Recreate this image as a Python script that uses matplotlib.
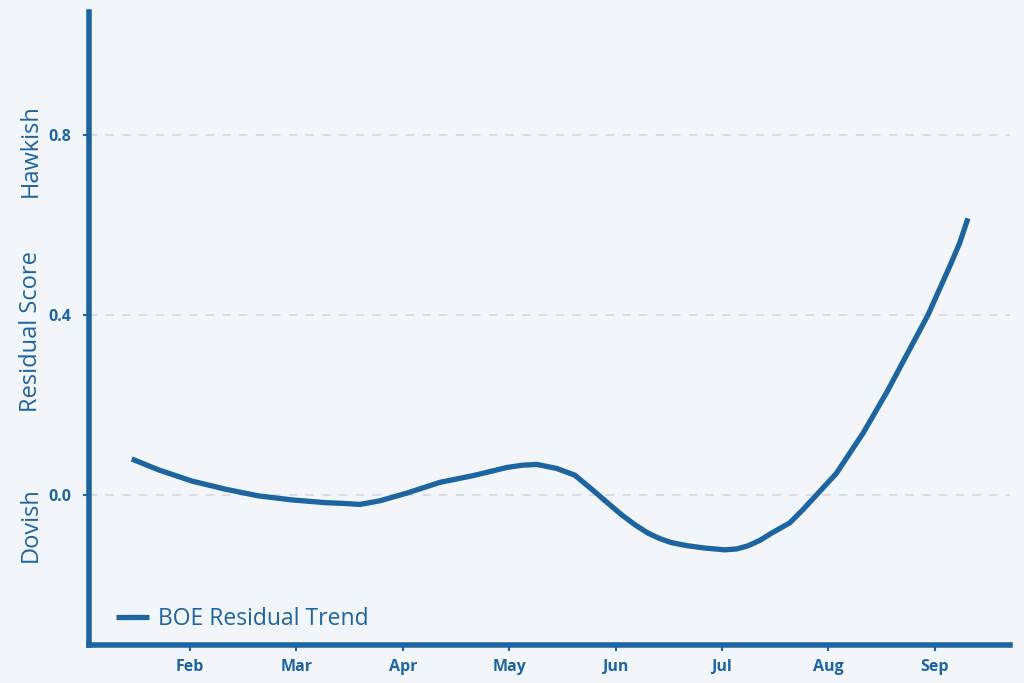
import numpy as np
import matplotlib
matplotlib.use("Agg")
import matplotlib.pyplot as plt

# x is a month position (2 = Feb ... 9 = Sep)
month_pos = [1.452, 1.702, 2.016, 2.329, 2.642, 2.956, 3.268, 3.456, 3.597,
             3.785, 4.036, 4.349, 4.662, 4.976, 5.120, 5.258, 5.446, 5.617,
             5.805, 5.927, 6.056, 6.181, 6.306, 6.416, 6.526, 6.679, 6.839,
             7.027, 7.139, 7.246, 7.356, 7.466, 7.638, 7.760, 7.889, 8.076,
             8.202, 8.326, 8.561, 8.702, 8.822, 8.937, 9.141, 9.235, 9.313]
residual = [0.080, 0.056, 0.031, 0.013, -0.002, -0.011, -0.017, -0.019,
            -0.021, -0.013, 0.004, 0.028, 0.043, 0.061, 0.066, 0.068, 0.059,
            0.044, 0.007, -0.018, -0.044, -0.066, -0.085, -0.097, -0.106,
            -0.113, -0.118, -0.122, -0.120, -0.113, -0.101, -0.085, -0.062,
            -0.033, 0.000, 0.048, 0.093, 0.137, 0.233, 0.296, 0.349, 0.400,
            0.508, 0.560, 0.615]

month_ticks = [2, 3, 4, 5, 6, 7, 8, 9]
month_labels = ["Feb", "Mar", "Apr", "May", "Jun", "Jul", "Aug", "Sep"]
yticks = [0.0, 0.4, 0.8]
ytick_labels = ["0.0", "0.4", "0.8"]

blue = "#1d64a0"
bg = "#f2f6fb"

plt.rcParams["font.family"] = ["Open Sans", "DejaVu Sans"]

fig = plt.figure(figsize=(10.24, 6.83), dpi=100, facecolor=bg)
ax = fig.add_axes([0.087, 0.056, 0.899, 0.926], facecolor=bg)

ax.plot(month_pos, residual, color=blue, lw=3.8, solid_capstyle="butt",
        solid_joinstyle="round", label="BOE Residual Trend")

ax.set_ylim(-0.333, 1.073)
ax.set_xlim(1.051, 9.705)
ax.set_yticks(yticks)
ax.set_yticklabels(ytick_labels)
ax.set_xticks(month_ticks)
ax.set_xticklabels(month_labels)

ax.grid(axis="y", color="#d5d8de", ls=(0, (5, 5)), lw=1.2)
ax.set_axisbelow(True)

for s in ["top", "right"]:
    ax.spines[s].set_visible(False)
for s in ["left", "bottom"]:
    ax.spines[s].set_color(blue)
    ax.spines[s].set_linewidth(4)

ax.tick_params(colors=blue, length=4, width=1.5, labelsize=11.5, pad=6)
ax.tick_params(axis="y", pad=9)
for lbl in ax.get_xticklabels() + ax.get_yticklabels():
    lbl.set_fontweight("bold")

# y label split in three parts
fig.text(0.030, 0.232, "Dovish", rotation=90, color=blue, fontsize=17,
         fontweight="medium", ha="center", va="center")
fig.text(0.030, 0.515, "Residual Score", rotation=90, color=blue, fontsize=17,
         fontweight="medium", ha="center", va="center")
fig.text(0.030, 0.780, "Hawkish", rotation=90, color=blue, fontsize=17,
         fontweight="medium", ha="center", va="center")

leg = ax.legend(loc="lower left", frameon=False, fontsize=16.5,
                handlelength=1.45, handletextpad=0.4,
                bbox_to_anchor=(0.014, 0.0), borderaxespad=0.2)
for t in leg.get_texts():
    t.set_color(blue)

fig.savefig("out.png", dpi=100, facecolor=bg)
